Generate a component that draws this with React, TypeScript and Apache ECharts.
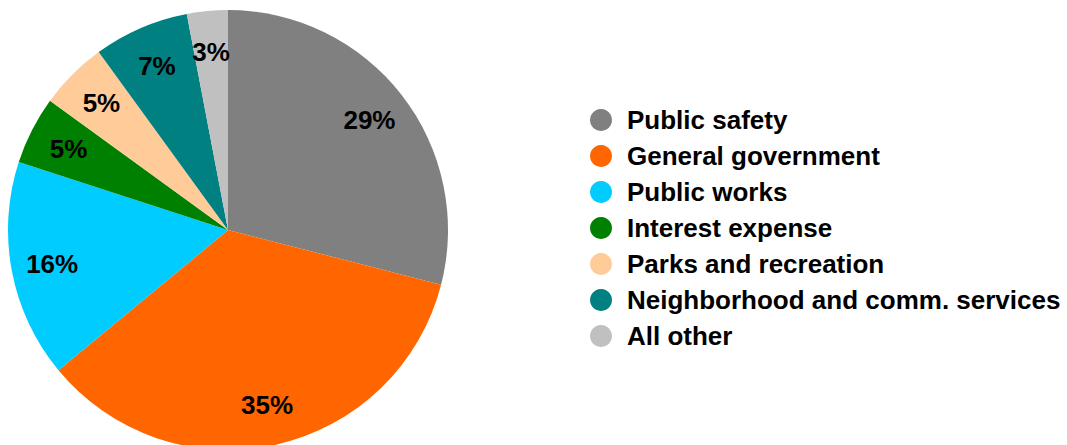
import React, { useEffect, useRef } from "react";
import * as echarts from "echarts";

const categories = [
  "Public safety",
  "General government",
  "Public works",
  "Interest expense",
  "Parks and recreation",
  "Neighborhood and comm. services",
  "All other",
];
const shares = [29, 35, 16, 5, 5, 7, 3];
const colors = ["#808080", "#FF6600", "#00CCFF", "#008000", "#FFCC99", "#008080", "#C0C0C0"];

const FONT = "'Liberation Sans', Arial, sans-serif";

export default function App() {
  const ref = useRef<HTMLDivElement>(null);
  useEffect(() => {
    if (!ref.current) return;
    const chart = echarts.init(ref.current, undefined, { renderer: "svg" });
    const mainData = categories.map((name, i) => ({
      name,
      value: shares[i],
      itemStyle: { color: colors[i] },
    }));
    const labelData = categories.map((name, i) => ({ name, value: shares[i] }));
    chart.setOption({
      animation: false,
      backgroundColor: "#ffffff",
      legend: {
        orient: "vertical",
        left: 585,
        top: 102,
        icon: "circle",
        itemWidth: 42,
        itemHeight: 22,
        itemGap: 10,
        selectedMode: false,
        data: categories.map((name, i) => ({
          name,
          itemStyle: { color: colors[i] },
        })),
        textStyle: {
          fontFamily: FONT,
          fontWeight: "bold",
          fontSize: 26,
          lineHeight: 26,
          color: "#000000",
        },
      },
      series: [
        {
          type: "pie",
          center: [228, 230],
          radius: 220,
          startAngle: 90,
          clockwise: true,
          silent: true,
          label: { show: false },
          labelLine: { show: false },
          data: mainData,
        },
        {
          type: "pie",
          center: [228, 230],
          radius: [132, 220],
          startAngle: 90,
          clockwise: true,
          silent: true,
          itemStyle: { color: "rgba(0,0,0,0)" },
          label: {
            show: true,
            position: "inside",
            formatter: "{c}%",
            fontFamily: FONT,
            fontWeight: "bold",
            fontSize: 26,
            color: "#000000",
          },
          labelLine: { show: false },
          data: labelData,
        },
      ],
    });
    return () => chart.dispose();
  }, []);
  return (
    <div
      ref={ref}
      style={{ position: "fixed", left: 0, top: 0, width: 1067, height: 445 }}
    />
  );
}
